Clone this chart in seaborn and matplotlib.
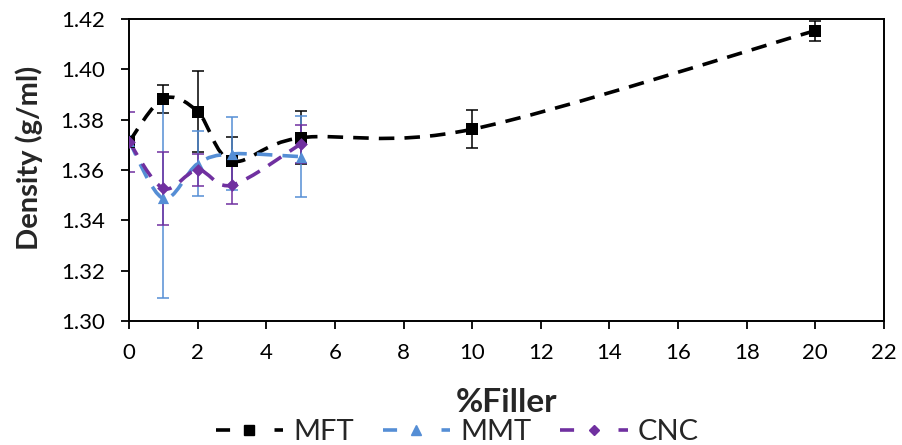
import numpy as np
import pandas as pd
import matplotlib
matplotlib.use("Agg")
import matplotlib.pyplot as plt
import seaborn as sns
from matplotlib.path import Path
from matplotlib.patches import PathPatch
from matplotlib.lines import Line2D

# ---- data ----
mft_x = [0, 1, 2, 3, 5, 10, 20]
mft_y = [1.3712, 1.3883, 1.3832, 1.3636, 1.3728, 1.3762, 1.4154]
mft_err = [0.002, 0.0055, 0.016, 0.0095, 0.0105, 0.0075, 0.004]

mmt_x = [0, 1, 2, 3, 5]
mmt_y = [1.3715, 1.3487, 1.3625, 1.3664, 1.3653]
mmt_err = [0.002, 0.0395, 0.013, 0.0145, 0.016]

cnc_x = [0, 1, 2, 3, 5]
cnc_y = [1.3712, 1.3527, 1.3600, 1.3540, 1.3703]
cnc_err = [0.012, 0.0145, 0.0065, 0.0077, 0.0075]

series_names = ["MFT", "MMT", "CNC"]
colors = {"MFT": "#000000", "MMT": "#558ED5", "CNC": "#7030A0"}
markers = {"MFT": "s", "MMT": "^", "CNC": "D"}
msizes = {"MFT": 75, "MMT": 65, "CNC": 42}

x_ticks = list(range(0, 23, 2))
y_ticks = [1.30, 1.32, 1.34, 1.36, 1.38, 1.40, 1.42]

sns.set_style("ticks")
plt.rcParams["font.family"] = ["Lato", "DejaVu Sans"]

fig = plt.figure(figsize=(9.02, 4.45), dpi=100)
ax = fig.add_axes([129 / 902, 1 - 321 / 445, (884 - 129) / 902, (321 - 19) / 445])

data = {
    "MFT": (mft_x, mft_y, mft_err),
    "MMT": (mmt_x, mmt_y, mmt_err),
    "CNC": (cnc_x, cnc_y, cnc_err),
}


def smooth_path(x, y):
    pts = np.column_stack([x, y]).astype(float)
    n = len(pts)
    verts = [pts[0]]
    codes = [Path.MOVETO]
    for i in range(n - 1):
        p0 = pts[i - 1] if i > 0 else pts[i]
        p1 = pts[i]
        p2 = pts[i + 1]
        p3 = pts[i + 2] if i + 2 < n else pts[i + 1]
        c1 = p1 + (p2 - p0) / 6.0
        c2 = p2 - (p3 - p1) / 6.0
        verts += [c1, c2, p2]
        codes += [Path.CURVE4] * 3
    return Path(verts, codes)


for z, name in enumerate(series_names):
    x, y, e = data[name]
    c = colors[name]
    ax.errorbar(x, y, yerr=e, fmt="none", ecolor=c, elinewidth=1.1,
                capsize=4.5, capthick=1.1, zorder=2 + z * 0.1)
    patch = PathPatch(smooth_path(x, y), fill=False, edgecolor=c,
                      linewidth=2.6, linestyle=(0, (4.3, 2.8)),
                      capstyle="butt", zorder=3 + z * 0.1)
    ax.add_patch(patch)
    df = pd.DataFrame({"x": x, "y": y})
    sns.scatterplot(data=df, x="x", y="y", ax=ax, marker=markers[name],
                    s=msizes[name], color=c, edgecolor=c, linewidth=0,
                    zorder=4 + z * 0.1)

ax.set_xlim(0, 22)
ax.set_ylim(1.30, 1.42)
ax.set_xticks(x_ticks)
ax.set_yticks(y_ticks)
ax.set_yticklabels([f"{v:.2f}" for v in y_ticks])
ax.tick_params(axis="both", direction="out", length=5.5, width=1.3,
               labelsize=16, colors="black")
ax.tick_params(axis="y", pad=12)
ax.tick_params(axis="x", pad=10)
for sp in ax.spines.values():
    sp.set_visible(True)
    sp.set_linewidth(1.4)
    sp.set_color("black")

ax.set_xlabel("%Filler", fontsize=24, fontweight="bold")
ax.xaxis.label.set_va("center")
ax.xaxis.set_label_coords(0.5, (321 - 403) / 302)
ax.set_ylabel("Density (g/ml)", fontsize=21, fontweight="bold")
ax.yaxis.label.set_va("center")
ax.yaxis.set_label_coords((29 - 129) / 755, 0.54)

handles = [Line2D([0], [0], color=colors[n], linestyle=(0, (3.9, 12.3)),
                  linewidth=2.6, dash_capstyle="butt", marker=markers[n],
                  markersize=7 if n != "CNC" else 5.5)
           for n in series_names]
fig.legend(handles, series_names, loc="center", bbox_to_anchor=(0.507, 0.029),
           ncol=3, frameon=False, fontsize=21, handlelength=2.3,
           columnspacing=1.0, handletextpad=0.35, borderaxespad=0,
           borderpad=0)

fig.savefig("out.png", dpi=100)
